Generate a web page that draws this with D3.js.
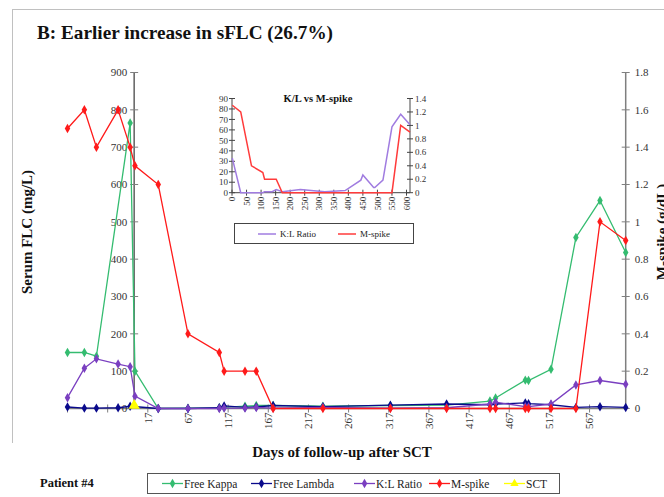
<!DOCTYPE html>
<html>
<head>
<meta charset="utf-8">
<script src="https://cdn.jsdelivr.net/npm/d3@7/dist/d3.min.js"></script>
<style>
  html, body { margin: 0; padding: 0; background: #fff; }
  svg { display: block; }
  text { font-family: "Liberation Serif", "Times New Roman", serif; }
</style>
</head>
<body>
<svg id="chart" width="664" height="497"></svg>
<script>
// Follow-up days relative to stem-cell transplant (day 0)
const days = [-83, -62, -47, -20, -5, 1, 30, 67, 106, 112, 138, 152, 173, 235, 319, 389, 443, 450, 487, 491, 519, 550, 580, 612];
// Serum free light chains (mg/L) and ratio, left axis
const freeKappa  = [150, 150, 140, null, 765, 100, 0, 1, 2, 3, 6, 8, 8, 6, 8, 9, 20, 28, 76, 75, 105, 458, 557, 418];
const freeLambda = [4, 1, 1, 2, 6, null, 0, 0, 2, 7, 3, 4, 8, 5, 9, 12, 10, 12, 15, 13, 10, 3, 5, 3];
const klRatio    = [29, 108, 133, 119, 112, 33, 0, 0, 0, 1, 1, 3, 1, 3, 1, 2, 12, 17, 5, 5, 12, 63, 75, 65];
// M-spike (g/dL), right axis
const mSpike     = [1.5, 1.6, 1.4, 1.6, 1.4, 1.3, 1.2, 0.4, 0.3, 0.2, 0.2, 0.2, 0, 0, 0, 0, 0, 0, 0, 0, 0, 0, 1.0, 0.9];
// Transplant marker
const sctDays = [0];
const sctValues = [0];

// Axis ticks
const xTickDays = [-83, -33, 17, 67, 117, 167, 217, 267, 317, 367, 417, 467, 517, 567];
const xTickLabels = ["", "", "17", "67", "117", "167", "217", "267", "317", "367", "417", "467", "517", "567"];
const leftTicks = [0, 100, 200, 300, 400, 500, 600, 700, 800, 900];
const rightTicks = [0, 0.2, 0.4, 0.6, 0.8, 1, 1.2, 1.4, 1.6, 1.8];
const insetXTicks = [0, 50, 100, 150, 200, 250, 300, 350, 400, 450, 500, 550, 600];
const insetLeftTicks = [0, 10, 20, 30, 40, 50, 60, 70, 80, 90];
const insetRightTicks = [0, 0.2, 0.4, 0.6, 0.8, 1, 1.2, 1.4];

const seriesNames = ["Free Kappa", "Free Lambda", "K:L Ratio", "M-spike", "SCT"];
const seriesColors = ["#34bc70", "#0a0a8c", "#7a3fc0", "#ff1a1a", "#ffff00"];

const svg = d3.select("#chart");
const axisColor = "#7f7f7f";
const labelColor = "#333";

// frame
svg.append("line").attr("x1", 12).attr("x2", 664).attr("y1", 9.5).attr("y2", 9.5).attr("stroke", "#c0c0c0");
svg.append("line").attr("x1", 12.5).attr("x2", 12.5).attr("y1", 9).attr("y2", 443).attr("stroke", "#c0c0c0");

// title
svg.append("text").attr("x", 37).attr("y", 39)
  .attr("font-size", 19).attr("font-weight", "bold").attr("fill", "#111")
  .attr("textLength", 296).attr("lengthAdjust", "spacingAndGlyphs")
  .text("B: Earlier increase in sFLC (26.7%)");

// main scales
const x = d3.scaleLinear().domain([-83, 612]).range([67.5, 625.7]);
const yL = d3.scaleLinear().domain([0, 900]).range([408.5, 72.5]);
const yR = d3.scaleLinear().domain([0, 1.8]).range([408.5, 72.5]);

// x axis line and cross ticks
const gx = svg.append("g");
gx.append("line").attr("x1", x(-83)).attr("x2", x(612)).attr("y1", yL(0)).attr("y2", yL(0))
  .attr("stroke", axisColor).attr("stroke-width", 1.5);
gx.selectAll("line.t").data(xTickDays).join("line").attr("class", "t")
  .attr("x1", d => x(d)).attr("x2", d => x(d))
  .attr("y1", yL(0) - 4).attr("y2", yL(0) + 4)
  .attr("stroke", axisColor);
gx.selectAll("text").data(xTickDays).join("text")
  .attr("transform", d => `translate(${x(d)},${yL(0) + 4}) rotate(-90)`)
  .attr("text-anchor", "end").attr("dy", "0.35em")
  .attr("font-size", 11).attr("fill", labelColor)
  .text((d, i) => xTickLabels[i]);

// left axis at day 0
const gl = svg.append("g");
gl.append("line").attr("x1", x(0)).attr("x2", x(0)).attr("y1", yL(0)).attr("y2", yL(900))
  .attr("stroke", "#606060").attr("stroke-width", 1.5);
gl.selectAll("line.t").data(leftTicks).join("line").attr("class", "t")
  .attr("x1", x(0) - 4).attr("x2", x(0) + 4)
  .attr("y1", d => yL(d)).attr("y2", d => yL(d)).attr("stroke", axisColor);
gl.selectAll("text").data(leftTicks).join("text")
  .attr("x", x(0) - 7).attr("y", d => yL(d)).attr("dy", "0.35em")
  .attr("text-anchor", "end").attr("font-size", 11).attr("fill", labelColor)
  .text(d => d);

// right axis
const gr = svg.append("g");
gr.append("line").attr("x1", x(612)).attr("x2", x(612)).attr("y1", yR(0)).attr("y2", yR(1.8))
  .attr("stroke", axisColor).attr("stroke-width", 1.5);
gr.selectAll("line.t").data(rightTicks).join("line").attr("class", "t")
  .attr("x1", x(612) - 4).attr("x2", x(612) + 4)
  .attr("y1", d => yR(d)).attr("y2", d => yR(d)).attr("stroke", axisColor);
gr.selectAll("text").data(rightTicks).join("text")
  .attr("x", x(612) + 9).attr("y", d => yR(d)).attr("dy", "0.35em")
  .attr("font-size", 11).attr("fill", labelColor)
  .text(d => d);

// axis titles
svg.append("text").attr("transform", "translate(32,232) rotate(-90)")
  .attr("text-anchor", "middle").attr("font-size", 15).attr("font-weight", "bold").attr("fill", "#111")
  .text("Serum FLC (mg/L)");
svg.append("text").attr("transform", "translate(667,232) rotate(-90)")
  .attr("text-anchor", "middle").attr("font-size", 15).attr("font-weight", "bold").attr("fill", "#111")
  .text("M-spike (g/dL)");
svg.append("text").attr("x", 342).attr("y", 457)
  .attr("text-anchor", "middle").attr("font-size", 15).attr("font-weight", "bold").attr("fill", "#111")
  .text("Days of follow-up after SCT");

// series
function rows(vals) {
  return days.map((d, i) => ({ d, v: vals[i] })).filter(p => p.v !== null);
}
const mainSeries = [
  { vals: freeKappa, y: yL, color: seriesColors[0] },
  { vals: freeLambda, y: yL, color: seriesColors[1] },
  { vals: klRatio, y: yL, color: seriesColors[2] },
  { vals: mSpike, y: yR, color: seriesColors[3] }
];
const diamond = d3.symbol().type(d3.symbolDiamond).size(26);
mainSeries.forEach(s => {
  const pts = rows(s.vals);
  const line = d3.line().x(p => x(p.d)).y(p => s.y(p.v));
  svg.append("path").datum(pts).attr("d", line)
    .attr("fill", "none").attr("stroke", s.color).attr("stroke-width", 1.3);
  svg.append("g").selectAll("path").data(pts).join("path")
    .attr("transform", p => `translate(${x(p.d)},${s.y(p.v)})`)
    .attr("d", diamond).attr("fill", s.color);
});
// SCT marker
const tri = d3.symbol().type(d3.symbolTriangle).size(55);
svg.append("g").selectAll("path").data(sctDays).join("path")
  .attr("transform", (d, i) => `translate(${x(d)},${yL(sctValues[i]) - 3})`)
  .attr("d", tri).attr("fill", seriesColors[4]);

// legend
const lg = svg.append("g");
lg.append("rect").attr("x", 147.5).attr("y", 473.5).attr("width", 412).attr("height", 20)
  .attr("fill", "#fff").attr("stroke", "#555");
const legendX = [162, 251, 354, 429, 504];
seriesNames.forEach((n, i) => {
  const cy = 483.5;
  lg.append("line").attr("x1", legendX[i]).attr("x2", legendX[i] + 21).attr("y1", cy).attr("y2", cy)
    .attr("stroke", seriesColors[i]).attr("stroke-width", 1.3);
  lg.append("path").attr("transform", `translate(${legendX[i] + 10.5},${cy})`)
    .attr("d", i === 4 ? d3.symbol().type(d3.symbolTriangle).size(30)() : diamond())
    .attr("fill", seriesColors[i]);
  lg.append("text").attr("x", legendX[i] + 22).attr("y", cy).attr("dy", "0.35em")
    .attr("font-size", 11.5).attr("fill", "#222").text(n);
});
svg.append("text").attr("x", 40).attr("y", 487)
  .attr("font-size", 12.5).attr("font-weight", "bold").attr("fill", "#111").text("Patient #4");

// inset: K/L ratio vs M-spike after transplant
const ix = d3.scaleLinear().domain([0, 612]).range([232, 410]);
const iyL = d3.scaleLinear().domain([0, 90]).range([192.7, 98.5]);
const iyR = d3.scaleLinear().domain([0, 1.4]).range([192.7, 98.5]);
const ig = svg.append("g");
ig.append("line").attr("x1", ix(0)).attr("x2", ix(612)).attr("y1", iyL(0)).attr("y2", iyL(0)).attr("stroke", "#444");
ig.append("line").attr("x1", ix(0)).attr("x2", ix(0)).attr("y1", iyL(0)).attr("y2", iyL(90)).attr("stroke", "#444");
ig.append("line").attr("x1", ix(612)).attr("x2", ix(612)).attr("y1", iyR(0)).attr("y2", iyR(1.4)).attr("stroke", "#444");
ig.selectAll("line.l").data(insetLeftTicks).join("line").attr("class", "l")
  .attr("x1", ix(0) - 3).attr("x2", ix(0) + 3).attr("y1", d => iyL(d)).attr("y2", d => iyL(d)).attr("stroke", "#444");
ig.selectAll("text.l").data(insetLeftTicks).join("text").attr("class", "l")
  .attr("x", ix(0) - 4).attr("y", d => iyL(d)).attr("dy", "0.35em").attr("text-anchor", "end")
  .attr("font-size", 9).attr("fill", labelColor).text(d => d);
ig.selectAll("line.r").data(insetRightTicks).join("line").attr("class", "r")
  .attr("x1", ix(612) - 3).attr("x2", ix(612) + 3).attr("y1", d => iyR(d)).attr("y2", d => iyR(d)).attr("stroke", "#444");
ig.selectAll("text.r").data(insetRightTicks).join("text").attr("class", "r")
  .attr("x", ix(612) + 5).attr("y", d => iyR(d)).attr("dy", "0.35em")
  .attr("font-size", 9).attr("fill", labelColor).text(d => d);
ig.selectAll("line.x").data(insetXTicks).join("line").attr("class", "x")
  .attr("x1", d => ix(d)).attr("x2", d => ix(d)).attr("y1", iyL(0) - 3).attr("y2", iyL(0) + 3).attr("stroke", "#444");
ig.selectAll("text.x").data(insetXTicks).join("text").attr("class", "x")
  .attr("transform", d => `translate(${ix(d)},${iyL(0) + 4}) rotate(-90)`)
  .attr("text-anchor", "end").attr("dy", "0.35em")
  .attr("font-size", 9).attr("fill", labelColor).text(d => d);
ig.append("text").attr("x", 318).attr("y", 102).attr("text-anchor", "middle")
  .attr("font-size", 10.5).attr("font-weight", "bold").attr("fill", "#111").text("K/L vs M-spike");

const insetRows = vals => days.map((d, i) => ({ d, v: vals[i] })).filter(p => p.d >= 0 && p.v !== null);
ig.append("path").datum(insetRows(klRatio))
  .attr("d", d3.line().x(p => ix(p.d)).y(p => iyL(p.v)))
  .attr("fill", "none").attr("stroke", "#a07ce0").attr("stroke-width", 1.5);
ig.append("path").datum(insetRows(mSpike))
  .attr("d", d3.line().x(p => ix(p.d)).y(p => iyR(p.v)))
  .attr("fill", "none").attr("stroke", "#ff3b3b").attr("stroke-width", 1.5);

const insetNames = ["K:L Ratio", "M-spike"];
const insetColors = ["#a07ce0", "#ff3b3b"];
ig.append("rect").attr("x", 234.5).attr("y", 223.5).attr("width", 179).attr("height", 20)
  .attr("fill", "#fff").attr("stroke", "#444");
[258, 338].forEach((lx, i) => {
  ig.append("line").attr("x1", lx).attr("x2", lx + 18).attr("y1", 234).attr("y2", 234)
    .attr("stroke", insetColors[i]).attr("stroke-width", 1.5);
  ig.append("text").attr("x", lx + 22).attr("y", 234).attr("dy", "0.35em")
    .attr("font-size", 9).attr("fill", "#222").text(insetNames[i]);
});
</script>
</body>
</html>
